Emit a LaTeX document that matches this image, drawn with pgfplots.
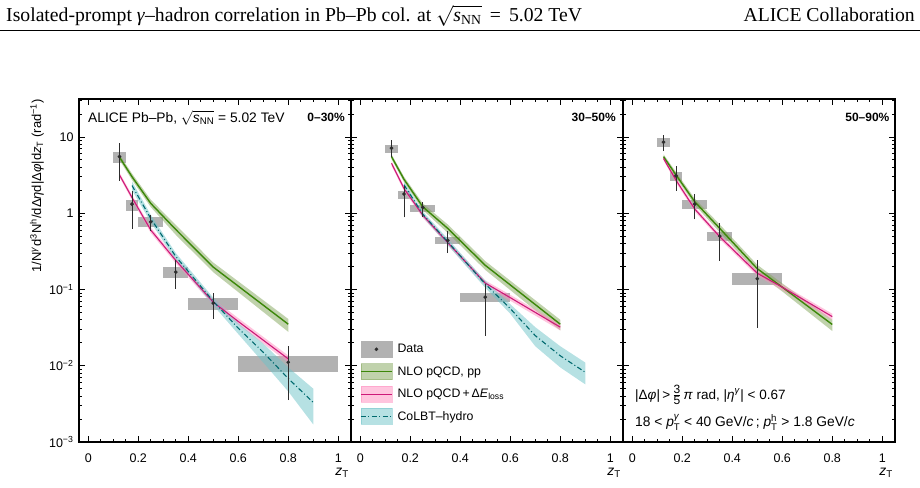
\documentclass[border=0pt]{standalone}
\usepackage{fontspec}
\setmainfont{Liberation Sans}
\newfontfamily\seriffont{Liberation Serif}
\usepackage{amsmath}
\usepackage{pgfplots}
\usepackage{pgfplotstable}
\pgfplotsset{compat=1.18}

\definecolor{boxgray}{RGB}{178,178,178}
\definecolor{ppgreen}{RGB}{60,135,10}
\definecolor{ppband}{RGB}{130,165,90}
\definecolor{elmag}{RGB}{205,25,120}
\definecolor{elband}{RGB}{255,140,190}
\definecolor{hydroteal}{RGB}{0,105,110}
\definecolor{hydroband}{RGB}{110,195,200}
\definecolor{datablack}{RGB}{45,45,45}

% ---------- measured per-trigger yields
\pgfplotstableread{
x y
0.125 5.5
0.175 1.31
0.25 0.77
0.35 0.169
0.5 0.066
0.8 0.0111
}\dataA
\pgfplotstableread{
x y
0.125 7.1
0.175 1.78
0.25 1.19
0.35 0.44
0.5 0.079
}\dataB
\pgfplotstableread{
x y
0.125 8.5
0.175 3.07
0.25 1.31
0.35 0.50
0.5 0.138
}\dataC

% ---------- NLO pQCD, pp reference (central values)
\pgfplotstableread{
x y
0.125 5.4
0.175 3.0
0.25 1.34
0.35 0.61
0.5 0.196
0.8 0.035
}\ppA
\pgfplotstableread{
x y
0.125 5.5
0.175 2.77
0.25 1.21
0.35 0.63
0.5 0.207
0.8 0.035
}\ppB
\pgfplotstableread{
x y
0.125 5.5
0.175 3.16
0.25 1.41
0.35 0.63
0.5 0.187
0.6 0.107
0.8 0.0347
}\ppC

% ---------- NLO pQCD + energy loss (central values)
\pgfplotstableread{
x y
0.125 3.16
0.175 1.6
0.25 0.6
0.35 0.24
0.5 0.068
0.6 0.038
0.8 0.0123
}\elA
\pgfplotstableread{
x y
0.125 4.5
0.175 2.1
0.25 0.94
0.35 0.41
0.5 0.121
0.6 0.078
0.8 0.032
}\elB
\pgfplotstableread{
x y
0.125 5.2
0.175 2.7
0.25 1.13
0.35 0.49
0.5 0.163
0.6 0.107
0.8 0.044
}\elC

% ---------- CoLBT-hydro (central values)
\pgfplotstableread{
x y
0.175 2.3
0.25 0.85
0.35 0.27
0.5 0.07
0.6 0.031
0.7 0.015
0.8 0.0068
0.9 0.0033
}\hyA
\pgfplotstableread{
x y
0.175 2.35
0.25 0.97
0.35 0.42
0.5 0.118
0.6 0.056
0.7 0.0248
0.8 0.0135
0.9 0.0082
}\hyB

% systematic uncertainty box: xlo, xhi, ylo, yhi
\newcommand{\sysbox}[4]{%
  \addplot[draw=none, fill=boxgray, forget plot]
    coordinates {(#1,#3) (#2,#3) (#2,#4) (#1,#4)};}
% statistical error bar: x, ylo, yhi
\newcommand{\staterr}[3]{%
  \addplot[datablack, line width=0.75pt, forget plot]
    coordinates {(#1,#2) (#1,#3)};}
% compact fraction with text-size digits
\newcommand{\smallfrac}[2]{%
  \genfrac{}{}{}{1}{\mbox{\fontsize{12}{12}\selectfont #1}}{\mbox{\fontsize{12}{12}\selectfont #2}}}
% sqrt(s_NN)
\newcommand{\sqrts}{$\sqrt{\smash[b]{\mbox{\textit{s}\textsubscript{NN}}}}$}

\tikzset{
  ppline/.style={ppgreen, line width=1.4pt},
  elline/.style={elmag, line width=1.1pt},
  hyline/.style={hydroteal, line width=1.1pt, dash pattern=on 5pt off 2.5pt on 1pt off 2.5pt},
  ppfill/.style={fill=ppband, fill opacity=0.5, draw=none},
  elfill/.style={fill=elband, fill opacity=0.5, draw=none},
  hyfill/.style={fill=hydroband, fill opacity=0.5, draw=none},
  datamark/.style={only marks, mark=*, mark size=1.7pt, datablack},
}

\begin{document}
\begin{tikzpicture}
\useasboundingbox (0pt,0pt) rectangle (920pt,487pt);

% running header
\node[anchor=base west, font=\seriffont\fontsize{19.7}{19.7}\selectfont, inner sep=0pt]
  at (6pt,465.5pt) {Isolated-prompt \textit{γ}–hadron correlation in Pb–Pb col. at
  \sqrts\, =\, 5.02 TeV};
\node[anchor=base east, font=\seriffont\fontsize{19.7}{19.7}\selectfont, inner sep=0pt]
  at (915pt,465.5pt) {ALICE Collaboration};
\draw[line width=0.9pt] (0pt,457pt) -- (920pt,457pt);

% ---------------- 0-30%
\begin{axis}[at={(79pt,45pt)}, anchor=south west, scale only axis,
    width=272pt, height=343pt,
    xmin=-0.037, xmax=1.051, ymode=log, ymin=1e-3, ymax=31.3,
    axis line style={line width=1.3pt},
    tick style={black, line width=0.6pt},
    tick align=inside,
    major tick length=6pt, minor tick length=3pt,
    xtick={0,0.2,0.4,0.6,0.8,1}, xticklabels={0,0.2,0.4,0.6,0.8,1},
    minor xtick={0.05,0.1,0.15,0.25,0.3,0.35,0.45,0.5,0.55,0.65,0.7,0.75,0.85,0.9,0.95},
    ytick={1e-3,1e-2,1e-1,1,10},
    minor ytick={2e-3,3e-3,4e-3,5e-3,6e-3,7e-3,8e-3,9e-3,2e-2,3e-2,4e-2,5e-2,6e-2,7e-2,8e-2,9e-2,0.2,0.3,0.4,0.5,0.6,0.7,0.8,0.9,2,3,4,5,6,7,8,9,20,30},
    xticklabel style={font=\fontsize{12.5}{12.5}\selectfont, yshift=-8pt},
    yticklabel style={font=\fontsize{12.5}{12.5}\selectfont, xshift=-2pt},
    yticklabels={10\textsuperscript{−3},10\textsuperscript{−2},10\textsuperscript{−1},1,10},
    axis on top]
  \sysbox{0.1}{0.15}{4.6}{6.3}
  \sysbox{0.15}{0.2}{1.07}{1.48}
  \sysbox{0.2}{0.3}{0.66}{0.89}
  \sysbox{0.3}{0.4}{0.141}{0.196}
  \sysbox{0.4}{0.6}{0.053}{0.077}
  \sysbox{0.6}{1.0}{0.0083}{0.0135}
  \addplot[ppfill, forget plot] coordinates {(0.125,5.85) (0.175,3.3) (0.25,1.5) (0.35,0.70) (0.5,0.225) (0.8,0.041)
    (0.8,0.0278) (0.5,0.168) (0.35,0.52) (0.25,1.2) (0.175,2.72) (0.125,4.95)};
  \addplot[elfill, forget plot] coordinates {(0.125,3.4) (0.175,1.73) (0.25,0.65) (0.35,0.26) (0.5,0.075) (0.6,0.042) (0.8,0.0136)
    (0.8,0.011) (0.6,0.0345) (0.5,0.062) (0.35,0.22) (0.25,0.55) (0.175,1.48) (0.125,2.95)};
  \addplot[hyfill, forget plot] coordinates {(0.175,2.6) (0.25,0.95) (0.35,0.30) (0.5,0.078) (0.6,0.036) (0.7,0.0195) (0.8,0.0095) (0.9,0.005)
    (0.9,0.0017) (0.8,0.0046) (0.7,0.011) (0.6,0.026) (0.5,0.062) (0.35,0.24) (0.25,0.76) (0.175,2.0)};
  \addplot[ppline, forget plot] table[x=x,y=y]{\ppA};
  \addplot[elline, forget plot] table[x=x,y=y]{\elA};
  \addplot[hyline, forget plot] table[x=x,y=y]{\hyA};
  \staterr{0.125}{2.66}{8.3}
  \staterr{0.175}{0.62}{1.95}
  \staterr{0.25}{0.58}{0.94}
  \staterr{0.35}{0.102}{0.24}
  \staterr{0.5}{0.041}{0.091}
  \staterr{0.8}{0.00355}{0.0183}
  \addplot[datamark, forget plot] table[x=x,y=y]{\dataA};
  \node[anchor=west, font=\fontsize{13.8}{13.8}\selectfont, inner sep=0pt]
    at (rel axis cs:0.033,0.945)
    {ALICE Pb–Pb, \sqrts{} = 5.02 TeV};
  \node[anchor=east, font=\bfseries\fontsize{12}{12}\selectfont, inner sep=0pt]
    at (rel axis cs:0.978,0.945) {0–30\%};
\end{axis}

% ---------------- 30-50%
\begin{axis}[at={(351pt,45pt)}, anchor=south west, scale only axis,
    width=272pt, height=343pt,
    xmin=-0.037, xmax=1.051, ymode=log, ymin=1e-3, ymax=31.3,
    axis line style={line width=1.3pt},
    tick style={black, line width=0.6pt},
    tick align=inside,
    major tick length=6pt, minor tick length=3pt,
    xtick={0,0.2,0.4,0.6,0.8,1}, xticklabels={0,0.2,0.4,0.6,0.8,1},
    minor xtick={0.05,0.1,0.15,0.25,0.3,0.35,0.45,0.5,0.55,0.65,0.7,0.75,0.85,0.9,0.95},
    ytick={1e-3,1e-2,1e-1,1,10},
    minor ytick={2e-3,3e-3,4e-3,5e-3,6e-3,7e-3,8e-3,9e-3,2e-2,3e-2,4e-2,5e-2,6e-2,7e-2,8e-2,9e-2,0.2,0.3,0.4,0.5,0.6,0.7,0.8,0.9,2,3,4,5,6,7,8,9,20,30},
    xticklabel style={font=\fontsize{12.5}{12.5}\selectfont, yshift=-8pt},
    yticklabels={},
    axis on top,
    legend style={at={(0.033,0.05)}, anchor=south west, draw=none, fill=none,
      inner sep=0pt, row sep=6pt, font=\fontsize{12.3}{12.3}\selectfont,
      nodes={inner xsep=5pt}},
    legend cell align=left]
  \sysbox{0.1}{0.15}{6.2}{7.85}
  \sysbox{0.15}{0.2}{1.55}{1.95}
  \sysbox{0.2}{0.3}{1.04}{1.27}
  \sysbox{0.3}{0.4}{0.39}{0.49}
  \sysbox{0.4}{0.6}{0.068}{0.091}
  \addplot[ppfill, forget plot] coordinates {(0.125,5.9) (0.175,3.0) (0.25,1.34) (0.35,0.71) (0.5,0.235) (0.8,0.040)
    (0.8,0.029) (0.5,0.18) (0.35,0.55) (0.25,1.1) (0.175,2.55) (0.125,5.1)};
  \addplot[elfill, forget plot] coordinates {(0.125,4.8) (0.175,2.25) (0.25,1.01) (0.35,0.44) (0.5,0.131) (0.6,0.085) (0.8,0.035)
    (0.8,0.029) (0.6,0.071) (0.5,0.111) (0.35,0.38) (0.25,0.87) (0.175,1.95) (0.125,4.2)};
  \addplot[hyfill, forget plot] coordinates {(0.175,2.55) (0.25,1.05) (0.35,0.46) (0.5,0.13) (0.6,0.064) (0.7,0.032) (0.8,0.018) (0.9,0.011)
    (0.9,0.0057) (0.8,0.0095) (0.7,0.018) (0.6,0.048) (0.5,0.105) (0.35,0.38) (0.25,0.89) (0.175,2.15)};
  \addplot[ppline, forget plot] table[x=x,y=y]{\ppB};
  \addplot[elline, forget plot] table[x=x,y=y]{\elB};
  \addplot[hyline, forget plot] table[x=x,y=y]{\hyB};
  \staterr{0.125}{5.5}{9.1}
  \staterr{0.175}{0.88}{2.3}
  \staterr{0.25}{0.90}{1.41}
  \staterr{0.35}{0.30}{0.585}
  \staterr{0.5}{0.0248}{0.119}
  \addplot[datamark, forget plot] table[x=x,y=y]{\dataB};
  \addlegendimage{legend image code/.code={
    \fill[boxgray] (0pt,-8pt) rectangle (31pt,8pt);
    \fill[datablack] (15.5pt,0pt) circle (1.6pt);}}
  \addlegendentry{Data}
  \addlegendimage{legend image code/.code={
    \fill[ppband, opacity=0.5] (0pt,-8pt) rectangle (31pt,8pt);
    \draw[ppline] (0pt,0pt) -- (31pt,0pt);}}
  \addlegendentry{NLO pQCD, pp}
  \addlegendimage{legend image code/.code={
    \fill[elband, opacity=0.5] (0pt,-8pt) rectangle (31pt,8pt);
    \draw[elline] (0pt,0pt) -- (31pt,0pt);}}
  \addlegendentry{NLO pQCD\,+\,Δ\textit{E}\textsubscript{loss}}
  \addlegendimage{legend image code/.code={
    \fill[hydroband, opacity=0.5] (0pt,-8pt) rectangle (31pt,8pt);
    \draw[hyline] (0pt,0pt) -- (31pt,0pt);}}
  \addlegendentry{CoLBT–hydro}
  \node[anchor=east, font=\bfseries\fontsize{12}{12}\selectfont, inner sep=0pt]
    at (rel axis cs:0.974,0.945) {30–50\%};
\end{axis}

% ---------------- 50-90%
\begin{axis}[at={(623pt,45pt)}, anchor=south west, scale only axis,
    width=272pt, height=343pt,
    xmin=-0.037, xmax=1.051, ymode=log, ymin=1e-3, ymax=31.3,
    axis line style={line width=1.3pt},
    tick style={black, line width=0.6pt},
    tick align=inside,
    major tick length=6pt, minor tick length=3pt,
    xtick={0,0.2,0.4,0.6,0.8,1}, xticklabels={0,0.2,0.4,0.6,0.8,1},
    minor xtick={0.05,0.1,0.15,0.25,0.3,0.35,0.45,0.5,0.55,0.65,0.7,0.75,0.85,0.9,0.95},
    ytick={1e-3,1e-2,1e-1,1,10},
    minor ytick={2e-3,3e-3,4e-3,5e-3,6e-3,7e-3,8e-3,9e-3,2e-2,3e-2,4e-2,5e-2,6e-2,7e-2,8e-2,9e-2,0.2,0.3,0.4,0.5,0.6,0.7,0.8,0.9,2,3,4,5,6,7,8,9,20,30},
    xticklabel style={font=\fontsize{12.5}{12.5}\selectfont, yshift=-8pt},
    yticklabels={},
    axis on top]
  \sysbox{0.1}{0.15}{7.45}{9.6}
  \sysbox{0.15}{0.2}{2.66}{3.5}
  \sysbox{0.2}{0.3}{1.13}{1.48}
  \sysbox{0.3}{0.4}{0.433}{0.557}
  \sysbox{0.4}{0.6}{0.113}{0.166}
  \addplot[ppfill, forget plot] coordinates {(0.125,5.9) (0.175,3.45) (0.25,1.55) (0.35,0.71) (0.5,0.21) (0.6,0.12) (0.8,0.040)
    (0.8,0.0285) (0.6,0.094) (0.5,0.165) (0.35,0.56) (0.25,1.28) (0.175,2.9) (0.125,5.1)};
  \addplot[elfill, forget plot] coordinates {(0.125,5.5) (0.175,2.9) (0.25,1.21) (0.35,0.525) (0.5,0.176) (0.6,0.116) (0.8,0.048)
    (0.8,0.040) (0.6,0.098) (0.5,0.15) (0.35,0.455) (0.25,1.05) (0.175,2.5) (0.125,4.9)};
  \addplot[ppline, forget plot] table[x=x,y=y]{\ppC};
  \addplot[elline, forget plot] table[x=x,y=y]{\elC};
  \staterr{0.125}{6.5}{10.6}
  \staterr{0.175}{1.95}{4.2}
  \staterr{0.25}{0.83}{1.76}
  \staterr{0.35}{0.236}{0.75}
  \staterr{0.5}{0.0313}{0.245}
  \addplot[datamark, forget plot] table[x=x,y=y]{\dataC};
  \node[anchor=east, font=\bfseries\fontsize{12}{12}\selectfont, inner sep=0pt]
    at (rel axis cs:0.98,0.945) {50–90\%};
  \node[anchor=base west, font=\fontsize{13.5}{13.5}\selectfont, inner sep=0pt]
    at (rel axis cs:0.044,0.125)
    {|Δ\textit{φ}|\,>\,$\smallfrac{3}{5}$\,\textit{π} rad, |\textit{η}\textsuperscript{\textit{γ}}| < 0.67};
  \node[anchor=base west, font=\fontsize{13.8}{13.8}\selectfont, inner sep=0pt]
    at (rel axis cs:0.044,0.045)
    {18 < $\textit{p}^{\textit{γ}}_{\text{T}}$ < 40 GeV/\textit{c}\,; $\textit{p}^{\text{h}}_{\text{T}}$ > 1.8 GeV/\textit{c}};
\end{axis}

% axis titles
\node[rotate=90, anchor=east, inner sep=0pt, font=\fontsize{13}{13}\selectfont]
  at (37pt,388pt)
  {1/N\textsuperscript{\textit{γ}}d\textsuperscript{3}N\textsuperscript{h}/dΔ\textit{η}d|Δ\textit{φ}|d\textit{z}\textsubscript{T} (rad\textsuperscript{−1})};
\node[font=\fontsize{14}{14}\selectfont] at (342pt,14pt) {\textit{z}\textsubscript{T}};
\node[font=\fontsize{14}{14}\selectfont] at (614pt,14pt) {\textit{z}\textsubscript{T}};
\node[font=\fontsize{14}{14}\selectfont] at (886pt,14pt) {\textit{z}\textsubscript{T}};
\end{tikzpicture}
\end{document}
